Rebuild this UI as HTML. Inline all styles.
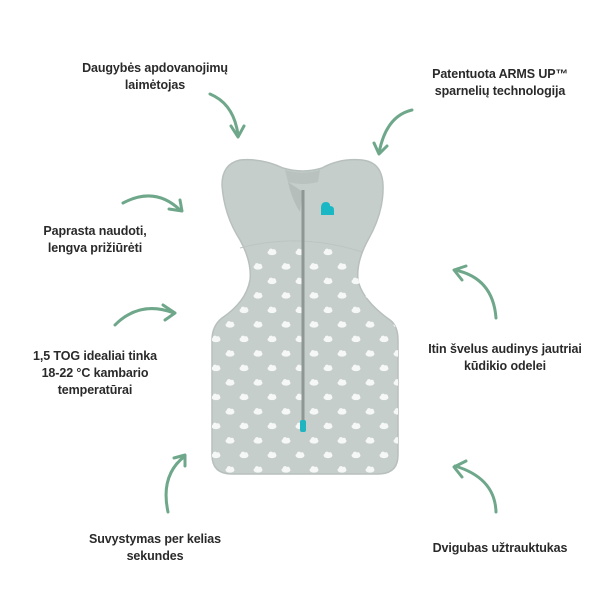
<!DOCTYPE html>
<html><head><meta charset="utf-8"><style>
html,body{margin:0;padding:0;background:#fff;}
body{width:600px;height:600px;position:relative;overflow:hidden;font-family:"Liberation Sans",sans-serif;}
.t{position:absolute;font-size:12.5px;font-weight:bold;color:#2a2a2a;text-align:center;line-height:17px;letter-spacing:-0.1px;}
svg{position:absolute;left:0;top:0;}
</style></head><body>
<svg width="600" height="600" viewBox="0 0 600 600">
<defs>
<pattern id="cl" x="0" y="0" width="28" height="29" patternUnits="userSpaceOnUse">
<g fill="#f6f8f7">
<ellipse cx="6" cy="6" rx="4.5" ry="2.6"/><circle cx="5" cy="4.3" r="2.2"/><circle cx="8" cy="4.6" r="1.8"/>
<ellipse cx="20" cy="20.5" rx="4.5" ry="2.6"/><circle cx="19" cy="18.8" r="2.2"/><circle cx="22" cy="19.1" r="1.8"/>
</g>
</pattern>
<clipPath id="body"><path d="M252 250 Q300 230 350 250 L355 268 Q362 300 390 320 Q398 326 398 340 L398 455 Q398 474 378 474 L232 474 Q212 474 212 455 L212 340 Q212 326 222 318 Q246 298 252 268 Z"/></clipPath>
</defs>
<!-- sack outline -->
<path d="M283 168 Q262 158 240 160 Q222 164 222 185 Q224 215 240 240 Q252 262 250 280 Q246 302 222 318 Q212 326 212 340 L212 455 Q212 474 232 474 L378 474 Q398 474 398 455 L398 340 Q398 326 390 320 Q362 300 358 280 Q356 262 368 240 Q384 212 383 185 Q382 162 362 160 Q340 158 322 168 Q303 174 283 168 Z" fill="#c6cecb" stroke="#b7c0bc" stroke-width="1.5"/>
<path d="M240 248 Q300 232 362 252" fill="none" stroke="#bcc5c1" stroke-width="1"/>
<rect x="200" y="230" width="210" height="250" fill="url(#cl)" clip-path="url(#body)"/>
<!-- neck -->
<path d="M285 170 Q303 175 320 170 L318 182 Q303 186 288 182 Z" fill="#b9c2be"/>
<path d="M288 182 Q292 200 300 212 L303 192 Z" fill="#b5beba"/>
<!-- zipper -->
<rect x="301.5" y="190" width="3" height="242" fill="#8f9794"/>
<rect x="300" y="420" width="6" height="12" rx="2" fill="#1fb5c0"/>
<!-- logo -->
<path d="M321 208 q0-6 5-6 q4 0 4 4 q4 0 4 4 v5 h-13 Z" fill="#1ab8c4"/>
<!-- arrows -->
<g fill="none" stroke="#6fa78a" stroke-width="3" stroke-linecap="round" stroke-linejoin="round">
<path d="M210 94 Q234 104 238 135"/><path d="M231 126 L238 137 L244 126"/>
<path d="M412 110 Q386 116 379 153"/><path d="M374 143 L379 154 L387 146"/>
<path d="M123 203 Q155 186 180 210"/><path d="M169 209 L182 211 L180 200"/>
<path d="M115 325 Q140 300 174 313"/><path d="M163 305 L175 313 L165 320"/>
<path d="M496 318 Q493 278 455 270"/><path d="M466 266 L454 270 L462 280"/>
<path d="M168 512 Q160 475 185 456"/><path d="M174 458 L185 455 L185 466"/>
<path d="M496 512 Q495 478 455 466"/><path d="M466 461 L454 467 L462 477"/>
</g>
</svg>
<div class="t" style="left:60px;top:60px;width:190px;">Daugybės apdovanojimų<br>laimėtojas</div>
<div class="t" style="left:395px;top:66px;width:210px;">Patentuota ARMS UP™<br>sparnelių technologija</div>
<div class="t" style="left:20px;top:223px;width:150px;">Paprasta naudoti,<br>lengva prižiūrėti</div>
<div class="t" style="left:20px;top:348px;width:150px;">1,5 TOG idealiai tinka<br>18-22 °C kambario<br>temperatūrai</div>
<div class="t" style="left:410px;top:341px;width:190px;">Itin švelus audinys jautriai<br>kūdikio odelei</div>
<div class="t" style="left:70px;top:531px;width:170px;">Suvystymas per kelias<br>sekundes</div>
<div class="t" style="left:410px;top:540px;width:180px;">Dvigubas užtrauktukas</div>
</body></html>
